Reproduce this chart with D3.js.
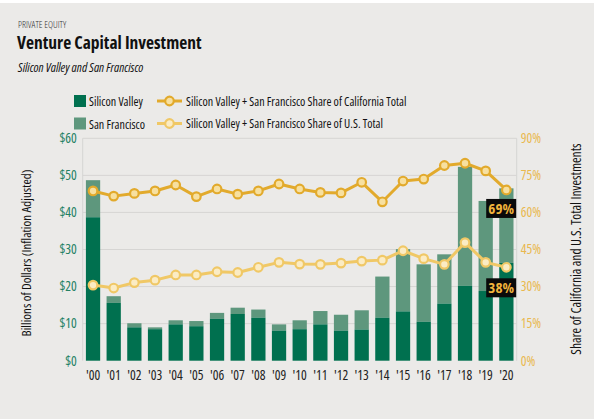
<!DOCTYPE html>
<html>
<head>
<meta charset="utf-8">
<script src="https://cdn.jsdelivr.net/npm/d3@7"></script>
<style>
body{margin:0;background:#ebeae8;}
svg{display:block;}
text{font-family:"Open Sans",sans-serif;font-stretch:condensed;}
</style>
</head>
<body>
<div id="chart-area"></div>
<script>
// data
let years=["'00","'01","'02","'03","'04","'05","'06","'07","'08","'09","'10","'11","'12","'13","'14","'15","'16","'17","'18","'19","'20"];
let siliconValley=[38.7,15.6,9.0,8.5,9.8,9.3,11.3,12.6,11.6,8.1,8.5,9.8,8.1,8.4,11.6,13.3,10.5,15.4,20.2,18.8,26.4];
let totalSVSF=[48.7,17.4,10.1,9.0,10.9,10.7,12.9,14.3,13.8,9.8,10.9,13.4,12.4,13.6,22.7,30.1,26.0,28.7,52.3,43.1,46.5];
let shareCA=[68.7,66.6,67.7,68.7,71.1,66.4,69.5,67.4,68.7,71.5,69.5,68.1,67.9,72.2,64.3,72.7,73.5,79.0,79.9,76.8,69.1];
let shareUS=[30.6,29.4,31.6,32.6,34.7,34.7,36.0,35.7,37.8,39.8,39.1,39.0,39.5,40.3,40.7,44.5,41.3,39.0,47.8,39.8,37.8];
let dollarTicks=[0,10,20,30,40,50,60];
let pctTicks=[0,15,30,45,60,75,90];

let W=594,H=419;
let margin={top:138.3,left:82.7,right:77.3,bottom:58.3};
let width=W-margin.left-margin.right;
let height=H-margin.top-margin.bottom;

let svColor="#00704f",sfColor="#5e977d";
let caColor="#e2aa2c",usColor="#f0c866";
let caFill="#f7e0a0",usFill="#fbecc4";

let svg=d3.select("#chart-area").append("svg")
	.attr("width",W)
	.attr("height",H);

svg.append("rect").attr("width",W).attr("height",H).attr("fill","#ebeae8");
svg.append("rect").attr("width",W).attr("height",3).attr("fill","#ffffff");

//------HEADER----------
svg.append("text").attr("x",18).attr("y",28)
	.attr("font-size","9.5px").attr("fill","#333")
	.style("font-weight","300").style("font-stretch","87%")
	.text("PRIVATE EQUITY");
svg.append("text").attr("x",17).attr("y",49)
	.attr("font-size","17.5px").attr("font-weight","bold").attr("fill","#111")
	.style("font-stretch","75%")
	.text("Venture Capital Investment");
svg.append("text").attr("x",18).attr("y",72)
	.attr("font-size","12.5px").attr("font-style","italic").attr("fill","#111")
	.text("Silicon Valley and San Francisco");

let g=svg.append("g")
	.attr("transform","translate("+margin.left+","+margin.top+")");

//------SCALES----------
let x=d3.scaleBand().domain(years).range([0,width]).paddingInner(0.31).paddingOuter(0.155);
let y=d3.scaleLinear().domain([0,60]).range([height,0]);
let y2=d3.scaleLinear().domain([0,90]).range([height,0]);

//------GRID------------
g.selectAll(".grid").data(dollarTicks.slice(1)).enter().append("line")
	.attr("x1",0).attr("x2",width)
	.attr("y1",d=>y(d)).attr("y2",d=>y(d))
	.attr("stroke","#d6d5d3").attr("stroke-width",1);
g.append("line").attr("x1",0).attr("x2",0).attr("y1",0).attr("y2",height)
	.attr("stroke","#d6d5d3");
g.append("line").attr("x1",width).attr("x2",width).attr("y1",0).attr("y2",height)
	.attr("stroke","#d6d5d3");

//------BARS------------
let bars=g.selectAll(".bar").data(years).enter().append("g");
bars.append("rect")
	.attr("x",d=>x(d)).attr("width",x.bandwidth())
	.attr("y",(d,i)=>y(totalSVSF[i]))
	.attr("height",(d,i)=>y(siliconValley[i])-y(totalSVSF[i]))
	.attr("fill",sfColor);
bars.append("rect")
	.attr("x",d=>x(d)).attr("width",x.bandwidth())
	.attr("y",(d,i)=>y(siliconValley[i]))
	.attr("height",(d,i)=>height-y(siliconValley[i]))
	.attr("fill",svColor);

//------AXES------------
let yAxis=d3.axisLeft(y).tickValues(dollarTicks).tickSize(0).tickPadding(6).tickFormat(d=>"$"+d);
let yAxisGroup=g.append("g").call(yAxis);
yAxisGroup.select(".domain").remove();
yAxisGroup.selectAll("text").attr("font-size","13.5px").attr("fill","#238063")
	.style("font-family","'Open Sans',sans-serif");

let y2Axis=d3.axisRight(y2).tickValues(pctTicks).tickSize(0).tickPadding(4).tickFormat(d=>d+"%");
let y2AxisGroup=g.append("g").attr("transform","translate("+width+",0)").call(y2Axis);
y2AxisGroup.select(".domain").remove();
y2AxisGroup.selectAll("text").attr("font-size","13.5px").attr("fill","#e9b84e")
	.style("font-family","'Open Sans',sans-serif");

let xAxis=d3.axisBottom(x).tickSize(0).tickPadding(10);
let xAxisGroup=g.append("g").attr("transform","translate(0,"+height+")").call(xAxis);
xAxisGroup.select(".domain").remove();
xAxisGroup.selectAll("text").attr("font-size","13.5px").attr("fill","#222")
	.style("font-family","'Open Sans',sans-serif");

//------AXIS TITLES-----
svg.append("text").attr("transform","rotate(-90)")
	.attr("x",-253).attr("y",31)
	.attr("text-anchor","middle").attr("font-size","13px").attr("fill","#111")
	.text("Billions of Dollars (Inflation Adjusted)");
svg.append("text").attr("transform","rotate(-90)")
	.attr("x",-249).attr("y",581)
	.attr("text-anchor","middle").attr("font-size","13.5px").attr("fill","#111")
	.text("Share of California and U.S. Total Investments");

//------LINES-----------
let line=d3.line().x((d,i)=>x(years[i])+x.bandwidth()/2).y(d=>y2(d));

function drawSeries(data,stroke,fill){
	g.append("path").datum(data).attr("d",line)
		.attr("fill","none").attr("stroke",stroke).attr("stroke-width",3)
		.attr("stroke-linejoin","round");
	g.selectAll(null).data(data).enter().append("circle")
		.attr("cx",(d,i)=>x(years[i])+x.bandwidth()/2)
		.attr("cy",d=>y2(d))
		.attr("r",4.3)
		.attr("fill",fill).attr("stroke",stroke).attr("stroke-width",2.2);
}
drawSeries(shareUS,usColor,usFill);
drawSeries(shareCA,caColor,caFill);

//------END LABELS------
function endLabel(val,yTop){
	let lab=g.append("g").attr("transform","translate("+(width-30.5)+","+yTop+")");
	lab.append("rect").attr("width",30).attr("height",19).attr("fill","#0a0a0a");
	lab.append("text").attr("x",15).attr("y",15).attr("text-anchor","middle")
		.attr("font-size","15px").attr("font-weight","bold").attr("fill","#f0b43c")
		.text(Math.round(val)+"%");
}
endLabel(shareCA[shareCA.length-1],y2(shareCA[shareCA.length-1])+9);
endLabel(shareUS[shareUS.length-1],y2(shareUS[shareUS.length-1])+11);

//------LEGEND----------
let legend=svg.append("g");
let barKeys=[["Silicon Valley",svColor],["San Francisco",sfColor]];
barKeys.forEach(function(k,i){
	let row=legend.append("g").attr("transform","translate(74,"+(95+i*22.5)+")");
	row.append("rect").attr("width",12).attr("height",12).attr("fill",k[1]);
	row.append("text").attr("x",15).attr("y",11).attr("font-size","12px").attr("fill","#111").text(k[0]);
});
let lineKeys=[["Silicon Valley + San Francisco Share of California Total",caColor,caFill],
	["Silicon Valley + San Francisco Share of U.S. Total",usColor,usFill]];
lineKeys.forEach(function(k,i){
	let row=legend.append("g").attr("transform","translate(157,"+(101+i*22.5)+")");
	row.append("line").attr("x1",0).attr("x2",25).attr("stroke",k[1]).attr("stroke-width",3);
	row.append("circle").attr("cx",12.5).attr("r",4.3).attr("fill",k[2]).attr("stroke",k[1]).attr("stroke-width",2.2);
	row.append("text").attr("x",29).attr("y",4.5).attr("font-size","12px").attr("fill","#111").text(k[0]);
});
</script>
</body>
</html>
